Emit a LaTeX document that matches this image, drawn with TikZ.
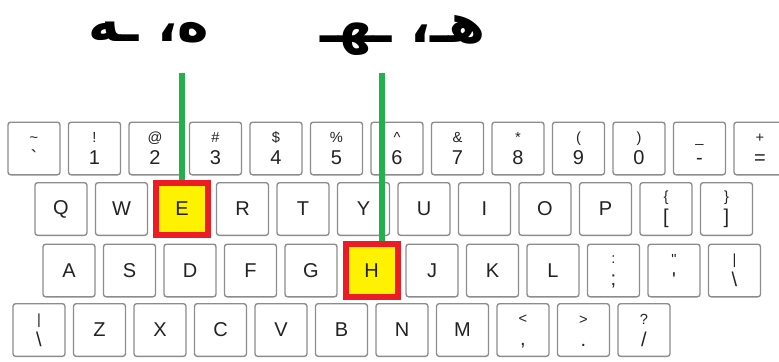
\documentclass[tikz,border=0pt]{standalone}
\usepackage{fontspec}
\newfontfamily\keyfont{Liberation Sans}
\newfontfamily\arabicfont[Script=Arabic]{DejaVu Sans}
\TeXXeTstate=1
\definecolor{keygray}{HTML}{8C8C8C}
\definecolor{keytext}{HTML}{222222}
\definecolor{markred}{HTML}{ED1C24}
\definecolor{markyellow}{HTML}{FFF200}
\definecolor{ptrgreen}{HTML}{22B14C}
\newcommand\keypair[2]{{\fontsize{11}{12}\selectfont\rule{0pt}{8pt}#1}\\{#2}}
\tikzset{
  key/.style={draw=keygray, line width=1pt, rounded corners=2pt, minimum width=39pt,
    minimum height=39.5pt, inner sep=0pt, text=keytext, align=center,
    font=\keyfont\fontsize{15}{16.5}\selectfont},
  hikey/.style={key, draw=markred, line width=4.5pt, fill=markyellow, rounded corners=0pt},
  pointer/.style={draw=ptrgreen, line width=4pt},
  marklabel/.style={font=\arabicfont\bfseries\fontsize{40}{44}\selectfont, inner sep=0pt},
}

\begin{document}
\begin{tikzpicture}[x=0.75pt,y=-0.75pt]
\useasboundingbox (0,0) rectangle (779,361);
% number row
\foreach \up/\dn [count=\i from 0] in {{\textasciitilde}/{\textasciigrave}, !/1, @/2, \#/3, \$/4, \%/5,
    {\textasciicircum}/6, \&/7, */8, {(}/9, {)}/0, \_/-, +/=}
  \node[key] (n\i) at ({34+60.5*\i},148.5) {\keypair{\up}{\dn}};
% top letter row
\foreach \ch/\st [count=\i from 0] in {Q/key, W/key, E/hikey, R/key, T/key, Y/key, U/key, I/key, O/key, P/key}
  \node[\st] (q\i) at ({61+60.5*\i},209) {\ch};
\node[key] (q10) at ({61+60.5*10},209) {\keypair{\{}{[}};
\node[key] (q11) at ({61+60.5*11},209) {\keypair{\}}{]}};
% home row
\foreach \ch/\st [count=\i from 0] in {A/key, S/key, D/key, F/key, G/key, H/hikey, J/key, K/key, L/key}
  \node[\st] (a\i) at ({69+60.5*\i},270.5) {\ch};
\node[key] (a9) at ({69+60.5*9},270.5) {\keypair{:}{;}};
\node[key] (a10) at ({69+60.5*10},270.5) {\keypair{\textquotedbl}{\textquotesingle}};
\node[key] (a11) at ({69+60.5*11},270.5) {\keypair{\textbar}{\textbackslash}};
% bottom row
\node[key] (z0) at (39,330) {\keypair{\textbar}{\textbackslash}};
\foreach \ch [count=\i from 1] in {Z, X, C, V, B, N, M}
  \node[key] (z\i) at ({39+60.5*\i},330) {\ch};
\node[key] (z8) at ({39+60.5*8},330) {\keypair{<}{,}};
\node[key] (z9) at ({39+60.5*9},330) {\keypair{>}{.}};
\node[key] (z10) at ({39+60.5*10},330) {\keypair{?}{/}};
% labels and pointers
\node[marklabel] (lblE) at (149,33) {\beginR ه، ـه\endR};
\node[marklabel] (lblH) at (403,36) {\beginR هـ، ـهـ\endR};
\coordinate (ptrE) at (182,73);
\coordinate (ptrH) at (382,73);
\draw[pointer] (ptrE) -- (q2);
\draw[pointer] (ptrH) -- (ptrH |- a5.north);
\end{tikzpicture}
\end{document}
